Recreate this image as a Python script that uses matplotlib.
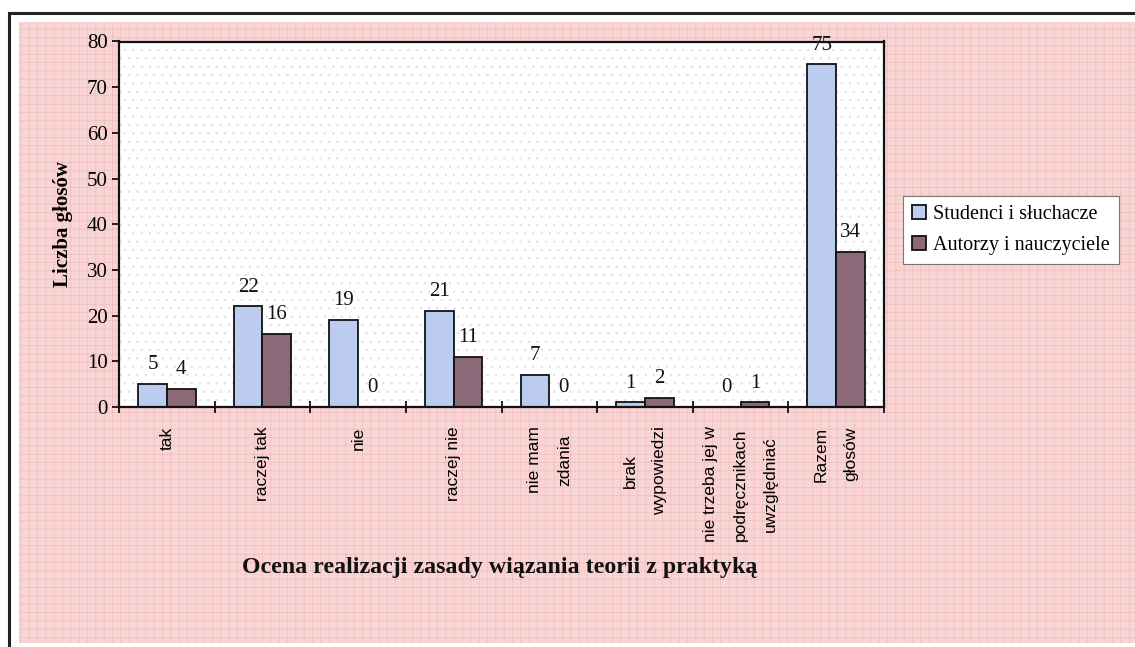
import numpy as np
import matplotlib
matplotlib.use("Agg")
import matplotlib.pyplot as plt
from matplotlib.patches import Rectangle
from matplotlib.lines import Line2D

# ==============================
# DATA
# ==============================
categories = ["tak", "raczej tak", "nie", "raczej nie", "nie mam\nzdania",
              "brak\nwypowiedzi", "nie trzeba jej w\npodręcznikach\nuwzględniać",
              "Razem\ngłosów"]
studenci = [5, 22, 19, 21, 7, 1, 0, 75]
autorzy = [4, 16, 0, 11, 0, 2, 1, 34]
series_names = ["Studenci i słuchacze", "Autorzy i nauczyciele"]
y_ticks = [0, 10, 20, 30, 40, 50, 60, 70, 80]

SERIF = ["Liberation Serif", "DejaVu Serif"]
SANS = ["Liberation Sans", "DejaVu Sans"]

plt.rcParams["hatch.linewidth"] = 0.4

W, H = 1135, 647
fig = plt.figure(figsize=(W / 100, H / 100), dpi=100)
fig.patch.set_facecolor("white")

# scanned pink background with grid texture
bg = Rectangle((19 / W, 1 - 643 / H), (W - 19) / W, (643 - 22) / H,
               transform=fig.transFigure, facecolor="#f8d4d4",
               edgecolor="#efb6b6", hatch="++", linewidth=0, zorder=-5)
fig.add_artist(bg)

# outer frame lines
fig.add_artist(Line2D([9 / W, 1], [1 - 12.5 / H, 1 - 12.5 / H],
                      transform=fig.transFigure, color="#222222", lw=2.2))
fig.add_artist(Line2D([9 / W, 9 / W], [0, 1 - 12.5 / H],
                      transform=fig.transFigure, color="#222222", lw=2.2))

ax = fig.add_axes([119 / W, 1 - 407 / H, (884 - 119) / W, (407 - 41.5) / H])
ax.set_zorder(1)
ax.set_facecolor("white")
ax.add_patch(Rectangle((0, 0), 1, 1, transform=ax.transAxes, facecolor="none",
                       edgecolor="#dddddd", hatch="..", linewidth=0, zorder=0))

x = np.arange(len(categories))
bw = 0.3
b1 = ax.bar(x - bw / 2, studenci, bw, color="#bccbf0", edgecolor="#111111",
            linewidth=1.3, label=series_names[0], zorder=2)
b2 = ax.bar(x + bw / 2, autorzy, bw, color="#8c6878", edgecolor="#111111",
            linewidth=1.3, label=series_names[1], zorder=2)

for bars, vals in [(b1, studenci), (b2, autorzy)]:
    for rect, v in zip(bars, vals):
        ax.annotate(str(v), (rect.get_x() + rect.get_width() / 2, v),
                    xytext=(0, 7), textcoords="offset points",
                    ha="center", va="bottom", fontsize=15, family=SERIF,
                    color="#111111", zorder=3, annotation_clip=False)

ax.set_xlim(-0.5, len(categories) - 0.5)
ax.set_ylim(0, 80)
ax.set_yticks(y_ticks)
ax.set_yticklabels([str(t) for t in y_ticks], family=SERIF, fontsize=15)
ax.tick_params(axis="y", direction="out", length=5, width=1.2, pad=3)

ax.set_xticks(x)
ax.set_xticklabels(categories, rotation=90, family=SANS, fontsize=12.5,
                   linespacing=2.25, multialignment="center")
ax.tick_params(axis="x", which="major", length=0, pad=14)
ax.set_xticks(np.arange(len(categories) + 1) - 0.5, minor=True)
ax.tick_params(axis="x", which="minor", direction="inout", length=8, width=1.2)

for s in ax.spines.values():
    s.set_linewidth(1.6)
    s.set_color("#111111")

ax.set_ylabel("Liczba głosów", family=SERIF, fontsize=15, fontweight="bold",
              labelpad=10)

fig.text(500 / W, 1 - 567 / H, "Ocena realizacji zasady wiązania teorii z praktyką",
         ha="center", va="center", family=SERIF, fontsize=17.2,
         fontweight="bold", color="#111111")

leg = fig.legend(handles=[b1, b2], labels=series_names, loc="center",
                 bbox_to_anchor=(1011 / W, 1 - 230 / H), prop={"family": SERIF, "size": 14.5},
                 frameon=True, fancybox=False, edgecolor="#777777", framealpha=1,
                 handlelength=0.7, handleheight=0.7, handletextpad=0.35,
                 borderpad=0.45, labelspacing=0.55, borderaxespad=0)
leg.get_frame().set_linewidth(0.8)

fig.savefig("out.png", dpi=100, facecolor=fig.get_facecolor())
